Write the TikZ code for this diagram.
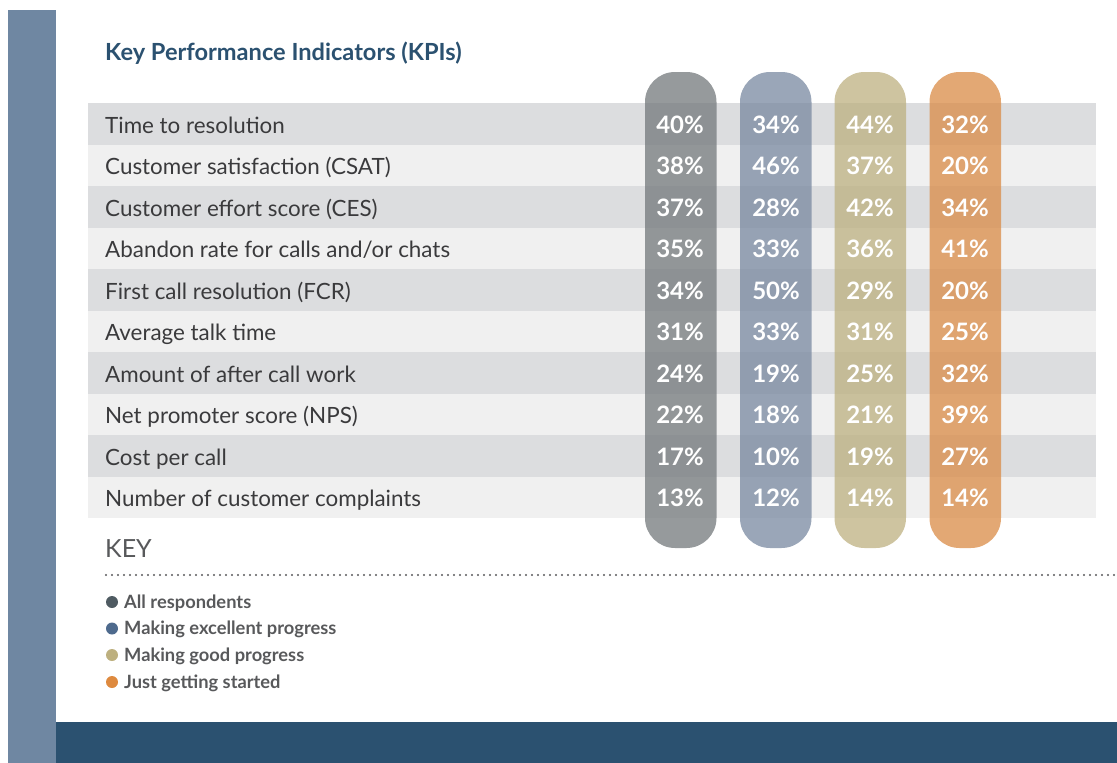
\documentclass[tikz,border=0pt]{standalone}
\usepackage{fontspec}
\setmainfont{Lato}
\definecolor{sidebar}{HTML}{6F87A2}
\definecolor{navy}{HTML}{2B5170}
\definecolor{stripeA}{HTML}{DCDDDF}
\definecolor{stripeB}{HTML}{F0F0F0}
\definecolor{rowtext}{HTML}{3A3A3C}
\definecolor{keytext}{HTML}{58595B}
\definecolor{pillA}{RGB}{115,120,123}
\definecolor{pillB}{RGB}{120,136,160}
\definecolor{pillC}{RGB}{189,176,128}
\definecolor{pillD}{RGB}{218,139,70}
\definecolor{dotA}{HTML}{4F5B62}
\definecolor{dotB}{HTML}{4E6A8D}
\definecolor{dotC}{HTML}{BDB07F}
\definecolor{dotD}{HTML}{DE8A3F}
\tikzset{
  rowlabel/.style={anchor=base west, inner sep=0pt, text=rowtext, font=\fontsize{22.4}{26}\selectfont},
  pct/.style={anchor=base east, inner sep=0pt, text=white, font=\fontsize{24}{28}\selectfont\bfseries},
  pill/.style={fill opacity=0.75, rounded corners=30pt},
  keyitem/.style={anchor=base west, inner sep=0pt, text=keytext, font=\fontsize{18.3}{22}\selectfont\bfseries},
}
\begin{document}
\begin{tikzpicture}[x=1pt,y=-1pt]
\useasboundingbox (0,0) rectangle (1117,763);
\fill[sidebar] (8,10) rectangle (56,763);
\fill[navy] (56,722) rectangle (1117,763);
\node[anchor=base west, inner sep=0pt, text=navy, font=\fontsize{23.6}{28}\selectfont\bfseries] (title) at (105,60) {Key Performance Indicators (KPIs)};
% stripes
\foreach \i in {0,...,9}{
  \pgfmathsetmacro{\ytop}{103+41.5*\i}
  \pgfmathsetmacro{\ybot}{103+41.5*(\i+1)}
  \pgfmathparse{mod(\i,2)==0 ? "stripeA" : "stripeB"}
  \fill[\pgfmathresult] (88,\ytop) rectangle (1096,\ybot);
}
% pills
\fill[pill, pillA] (645,72) rectangle (716.5,548);
\fill[pill, pillB] (740,72) rectangle (811.5,548);
\fill[pill, pillC] (834.5,72) rectangle (906,548);
\fill[pill, pillD] (929.5,72) rectangle (1001,548);
% rows
\foreach \lab/\a/\b/\c/\d [count=\n from 0] in {
  {Time to resolution}/40/34/44/32,
  {Customer satisfaction (CSAT)}/38/46/37/20,
  {Customer effort score (CES)}/37/28/42/34,
  {Abandon rate for calls and/or chats}/35/33/36/41,
  {First call resolution (FCR)}/34/50/29/20,
  {Average talk time}/31/33/31/25,
  {Amount of after call work}/24/19/25/32,
  {Net promoter score (NPS)}/22/18/21/39,
  {Cost per call}/17/10/19/27,
  {Number of customer complaints}/13/12/14/14}{
  \pgfmathsetmacro{\yb}{103+41.5*\n+30}
  \node[rowlabel] (row\n) at (105,\yb) {\lab};
  \node[pct] (v\n-1) at (704,\yb) {\a\%};
  \node[pct] (v\n-2) at (800,\yb) {\b\%};
  \node[pct] (v\n-3) at (894,\yb) {\c\%};
  \node[pct] (v\n-4) at (989,\yb) {\d\%};
}
% key
\node[anchor=base west, inner sep=0pt, text=keytext, font=\fontsize{25}{30}\selectfont] (key) at (105,557) {KEY};
\coordinate (dl) at (106,575);
\coordinate (dr) at (1117,575);
\draw[keytext, line width=2.2pt, dash pattern=on 0pt off 6pt, line cap=round] (dl) -- (dr);
\foreach \col/\txt/\yy [count=\k] in {dotA/All respondents/602, dotB/Making excellent progress/628.5, dotC/Making good progress/655, dotD/Just getting started/682}{
  \fill[\col] (112,\yy) circle (6);
  \node[keyitem] (keyitem\k) at (124,\yy+6) {\txt};
}
\end{tikzpicture}
\end{document}
